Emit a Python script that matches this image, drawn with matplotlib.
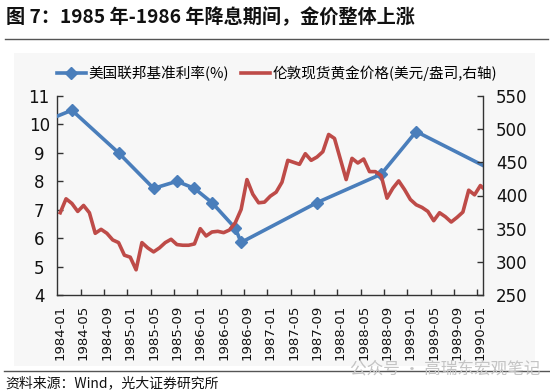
import numpy as np
import pandas as pd
import matplotlib
matplotlib.use('Agg')
import matplotlib.pyplot as plt
from matplotlib.lines import Line2D
from matplotlib.patches import Rectangle

plt.rcParams['font.family'] = ['Noto Sans CJK SC', 'DejaVu Sans']

# ---------------- data ----------------
title = '图 7：1985 年-1986 年降息期间，金价整体上涨'
source = '资料来源：Wind，光大证券研究所'
watermark = '公众号 · 高瑞东宏观笔记'
rate_label = '美国联邦基准利率(%)'
gold_label = '伦敦现货黄金价格(美元/盎司,右轴)'

# monthly categories (axis shows 1984-01 .. 1990-01; last month runs past the edge)
months = [p.strftime('%Y-%m') for p in pd.period_range('1984-01', '1990-02', freq='M')]
axis_months = months[:73]
tick_labels = axis_months[::4]

gold = [374, 395, 388, 376, 385, 374, 343, 349, 343, 333, 329, 310,
        307, 288, 329, 321, 315, 321, 329, 334, 326, 325, 325, 327,
        350, 339, 345, 346, 344, 348, 359, 379, 424, 402, 389, 390,
        399, 405, 420, 453, 450, 447, 463, 453, 458, 466, 492, 486,
        455, 424, 456, 449, 455, 436, 436, 430, 396, 411, 422, 409,
        394, 386, 382, 376, 362, 374, 368, 360, 367, 375, 408, 401,
        415, 407]

rate_dates = ['1983-12', '1984-03', '1984-11', '1985-05', '1985-09', '1985-12',
              '1986-03', '1986-07', '1986-08', '1987-09', '1988-08', '1989-02',
              '1990-02']
rate_values = [10.25, 10.5, 9.0, 7.75, 8.0, 7.75, 7.25, 6.35, 5.85, 7.25, 8.25, 9.75, 8.5]
rate_marked = [False, True, True, True, True, True, True, True, True, True, True, True, False]


def month_index(s):
    y, m = s.split('-')
    return (int(y) - 1984) * 12 + int(m) - 1


rate_x = [month_index(d) for d in rate_dates]
gold_x = [month_index(d) for d in months]

# ---------------- figure ----------------
W, H = 550, 392
fig = plt.figure(figsize=(W / 100, H / 100), dpi=100)
fig.patch.set_facecolor('white')

# light chart-area background
fig.patches.append(Rectangle((14 / W, 1 - 366 / H), (535 - 14) / W, (366 - 53) / H,
                             transform=fig.transFigure, facecolor='#f7f7f7',
                             edgecolor='none', zorder=-10))

L, R, T, B = 57.3, 483.3, 96, 295
ax = fig.add_axes([L / W, 1 - B / H, (R - L) / W, (B - T) / H])
ax.patch.set_visible(False)

blue = '#4A7EBB'
red = '#BE4B48'
axc = '#333333'

mk = [i for i, m in enumerate(rate_marked) if m]
ax.plot(rate_x, rate_values, color=blue, lw=2.6, marker='D', ms=6.5,
        markevery=mk, zorder=3, solid_capstyle='butt')
ax.set_xlim(-0.5, len(axis_months) - 0.5)
ax.set_ylim(4, 11)
ax.set_yticks(np.arange(4, 12, 1))
ax.set_yticklabels([str(v) for v in range(4, 12)], family='DejaVu Sans')

ax2 = ax.twinx()
ax2.plot(gold_x, gold, color=red, lw=2.6, zorder=4, solid_joinstyle='round')
ax2.set_ylim(250, 550)
ax2.set_yticks(np.arange(250, 551, 50))
ax2.set_yticklabels([str(v) for v in range(250, 551, 50)], family='DejaVu Sans')
ax2.set_xlim(-0.5, len(axis_months) - 0.5)

for a in (ax, ax2):
    a.spines['top'].set_visible(False)
    for s in ('left', 'right', 'bottom'):
        a.spines[s].set_color(axc)
        a.spines[s].set_linewidth(1.0)

ax.spines['right'].set_visible(False)
ax2.spines['left'].set_visible(False)
ax2.spines['bottom'].set_visible(False)

ax.tick_params(axis='y', direction='in', length=4, width=1, color=axc,
               labelsize=12, pad=13, labelcolor='#111111')
for lab in ax.get_yticklabels():
    lab.set_ha('center')
ax2.tick_params(axis='y', direction='in', length=4, width=1, color=axc,
                labelsize=12, pad=9, labelcolor='#111111')

tick_pos = [axis_months.index(t) for t in tick_labels]
ax.set_xticks(tick_pos)
ax.set_xticklabels(tick_labels, rotation=90, family='DejaVu Sans')
ax.tick_params(axis='x', which='major', length=0, labelsize=9.5, pad=7,
               labelcolor='#111111')
ax.set_xticks([p - 0.5 for p in tick_pos[1:]], minor=True)
ax.tick_params(axis='x', which='minor', direction='in', length=4, width=1, color=axc)

# legend
handles = [Line2D([], [], color=blue, lw=2.6, marker='D', ms=6.5),
           Line2D([], [], color=red, lw=2.6)]
fig.legend(handles, [rate_label, gold_label], loc='center',
           bbox_to_anchor=(277 / W, 1 - 73 / H), ncol=2, frameon=False,
           fontsize=10.5, handlelength=2.0, handletextpad=0.2,
           columnspacing=0.8, borderpad=0)

# title and rules
fig.text(6 / W, 1 - 17 / H, title, fontsize=13.8, fontweight='bold', va='center',
         ha='left', color='#111111')
fig.add_artist(Line2D([5 / W, 548 / W], [1 - 39.4 / H, 1 - 39.4 / H],
                      transform=fig.transFigure, color='#555555', lw=1.0))
fig.add_artist(Line2D([4 / W, 549 / W], [1 - 371 / H, 1 - 371 / H],
                      transform=fig.transFigure, color='#555555', lw=1.0))
fig.text(5 / W, 1 - 383 / H, source, fontsize=10, va='center', ha='left',
         color='#111111')
fig.text(540 / W, 1 - 369 / H, watermark, fontsize=12, va='center', ha='right',
         color='#c4c4c4', zorder=5)

fig.savefig('out.png', dpi=100)
